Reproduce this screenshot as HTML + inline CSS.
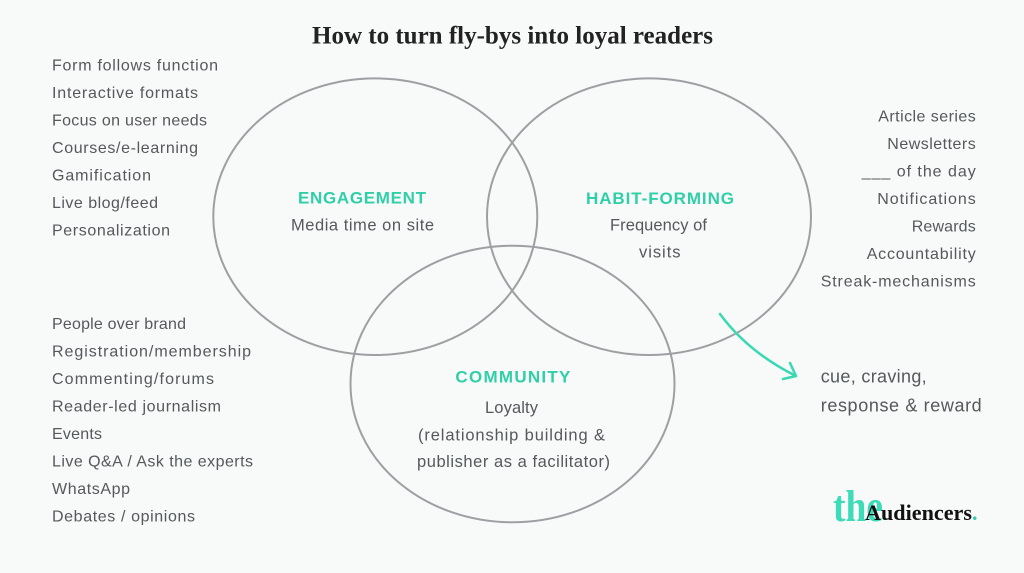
<!DOCTYPE html>
<html>
<head>
<meta charset="utf-8">
<style>
html,body{margin:0;padding:0;background:#f8f9f9;}
svg{display:block;}
.t{font-family:"Liberation Sans",sans-serif;font-size:16px;fill:#55595c;}
.c{font-family:"Liberation Sans",sans-serif;font-size:16.5px;fill:#55595c;}
.h{font-family:"Liberation Sans",sans-serif;font-size:17px;font-weight:bold;fill:#2fcfa8;}
</style>
</head>
<body>
<svg width="1024" height="573" viewBox="0 0 1024 573" xmlns="http://www.w3.org/2000/svg">
<rect width="1024" height="573" fill="#f8f9f9"/>

<!-- Title -->
<text x="312" y="43.5" font-family="'Liberation Serif',serif" font-weight="bold" font-size="25" fill="#222" textLength="401" lengthAdjust="spacingAndGlyphs">How to turn fly-bys into loyal readers</text>

<!-- Circles -->
<g fill="none" stroke="#9ca0a3" stroke-width="2">
<ellipse cx="375.3" cy="216.7" rx="162" ry="138.3"/>
<ellipse cx="649" cy="216.7" rx="162" ry="138.3"/>
<ellipse cx="512.5" cy="384" rx="162" ry="138.3"/>
</g>

<!-- Left list -->
<text class="t" x="52" y="70.7" textLength="166" lengthAdjust="spacing">Form follows function</text>
<text class="t" x="52" y="98.2" textLength="146" lengthAdjust="spacing">Interactive formats</text>
<text class="t" x="52" y="125.7" textLength="155" lengthAdjust="spacing">Focus on user needs</text>
<text class="t" x="52" y="153.2" textLength="146" lengthAdjust="spacing">Courses/e-learning</text>
<text class="t" x="52" y="180.7" textLength="99" lengthAdjust="spacing">Gamification</text>
<text class="t" x="52" y="208.2" textLength="106" lengthAdjust="spacing">Live blog/feed</text>
<text class="t" x="52" y="235.7" textLength="118" lengthAdjust="spacing">Personalization</text>

<!-- Bottom-left list -->
<text class="t" x="52" y="329" textLength="134" lengthAdjust="spacing">People over brand</text>
<text class="t" x="52" y="356.5" textLength="199" lengthAdjust="spacing">Registration/membership</text>
<text class="t" x="52" y="384" textLength="162" lengthAdjust="spacing">Commenting/forums</text>
<text class="t" x="52" y="411.5" textLength="169" lengthAdjust="spacing">Reader-led journalism</text>
<text class="t" x="52" y="439" textLength="50" lengthAdjust="spacing">Events</text>
<text class="t" x="52" y="466.5" textLength="201" lengthAdjust="spacing">Live Q&amp;A / Ask the experts</text>
<text class="t" x="52" y="494" textLength="78" lengthAdjust="spacing">WhatsApp</text>
<text class="t" x="52" y="521.5" textLength="143" lengthAdjust="spacing">Debates / opinions</text>

<!-- Right list -->
<text class="t" x="878.3" y="121.5" textLength="97.4" lengthAdjust="spacing">Article series</text>
<text class="t" x="887.3" y="149" textLength="88.4" lengthAdjust="spacing">Newsletters</text>
<text class="t" x="861.7" y="176.5" textLength="114" lengthAdjust="spacing">___ of the day</text>
<text class="t" x="877.3" y="204" textLength="98.4" lengthAdjust="spacing">Notifications</text>
<text class="t" x="911.7" y="231.5" textLength="64" lengthAdjust="spacing">Rewards</text>
<text class="t" x="866.7" y="259" textLength="109" lengthAdjust="spacing">Accountability</text>
<text class="t" x="820.7" y="286.5" textLength="155" lengthAdjust="spacing">Streak-mechanisms</text>

<!-- Circle labels -->
<text class="h" x="298" y="203.3" textLength="128" lengthAdjust="spacing">ENGAGEMENT</text>
<text class="c" x="291" y="230.7" textLength="143" lengthAdjust="spacing">Media time on site</text>

<text class="h" x="586" y="204" textLength="148" lengthAdjust="spacing">HABIT-FORMING</text>
<text class="c" x="610" y="230.5" textLength="97" lengthAdjust="spacing">Frequency of</text>
<text class="c" x="639" y="257.3" textLength="41.5" lengthAdjust="spacing">visits</text>

<text class="h" x="455.4" y="382.3" textLength="115" lengthAdjust="spacing">COMMUNITY</text>
<text class="c" x="485" y="413" textLength="53" lengthAdjust="spacing">Loyalty</text>
<text class="c" x="418" y="440.7" textLength="187" lengthAdjust="spacing">(relationship building &amp;</text>
<text class="c" x="417" y="467" textLength="193" lengthAdjust="spacing">publisher as a facilitator)</text>

<!-- Arrow -->
<g fill="none" stroke="#3ad8b3" stroke-width="2.5" stroke-linecap="round" stroke-linejoin="round">
<path d="M720 314 Q 748 352 796 376"/>
<path d="M790 363 L796 376 L783 379"/>
</g>

<!-- cue text -->
<text x="820.7" y="382.7" font-family="'Liberation Sans',sans-serif" font-size="18" fill="#55595c" textLength="106" lengthAdjust="spacing">cue, craving,</text>
<text x="820.7" y="411.7" font-family="'Liberation Sans',sans-serif" font-size="18" fill="#55595c" textLength="161" lengthAdjust="spacing">response &amp; reward</text>

<!-- Logo -->
<text x="833" y="521" font-family="'Liberation Serif',serif" font-weight="bold" font-size="44" fill="#3ddbb8" textLength="50" lengthAdjust="spacingAndGlyphs">the</text>
<text x="865" y="520" font-family="'Liberation Serif',serif" font-weight="bold" font-size="22" fill="#111" textLength="107" lengthAdjust="spacingAndGlyphs">Audiencers</text>
<text x="972" y="520" font-family="'Liberation Serif',serif" font-weight="bold" font-size="22" fill="#2fcfa8">.</text>
</svg>
</body>
</html>
